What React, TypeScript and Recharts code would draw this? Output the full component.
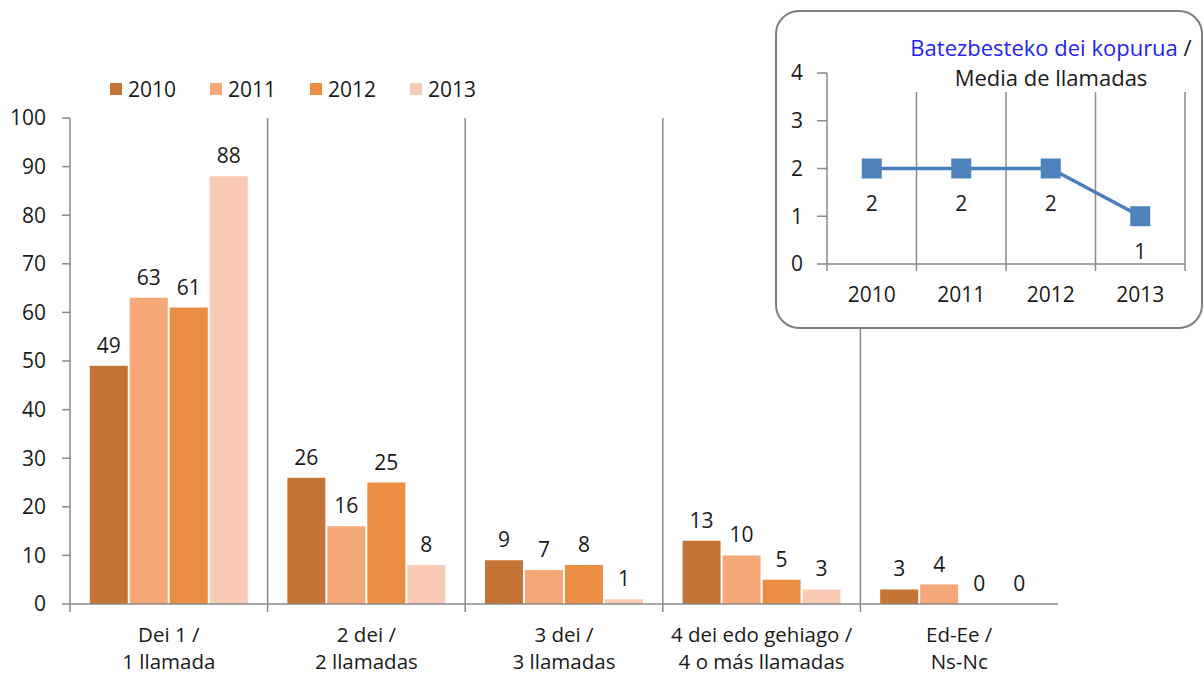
import { BarChart, Bar, XAxis, YAxis, LabelList, CartesianGrid, LineChart, Line } from 'recharts';

const categories = [
  'Dei 1 /\n1 llamada',
  '2 dei /\n2 llamadas',
  '3 dei /\n3 llamadas',
  '4 dei edo gehiago /\n4 o más llamadas',
  'Ed-Ee /\nNs-Nc',
];
const years = ['2010', '2011', '2012', '2013'];
const calls2010 = [49, 26, 9, 13, 3];
const calls2011 = [63, 16, 7, 10, 4];
const calls2012 = [61, 25, 8, 5, 0];
const calls2013 = [88, 8, 1, 3, 0];
const yTicks = [0, 10, 20, 30, 40, 50, 60, 70, 80, 90, 100];
const avgCalls = [2, 2, 2, 1];
const avgTicks = [0, 1, 2, 3, 4];

const colors = ['#C47535', '#F6A878', '#E98E42', '#F9CBB4'];
const FONT = '"Open Sans", "Noto Sans", sans-serif';
const axisGray = '#8a8a8a';
const textColor = '#1a1a1a';

const barData = categories.map((name, i) => ({
  name,
  y2010: calls2010[i],
  y2011: calls2011[i],
  y2012: calls2012[i],
  y2013: calls2013[i],
}));
const seriesKeys = ['y2010', 'y2011', 'y2012', 'y2013'];

const lineData = years.map((year, i) => ({ year, avg: avgCalls[i] }));

// grid lines between categories (Excel style)
const boundaries = (n: number, last: number) => ({ offset }: any) => {
  const out: number[] = [];
  for (let i = 1; i <= last; i++) out.push(offset.left + (offset.width * i) / n);
  return out;
};

// tick label on two lines + small tick marks on the category boundaries
const makeCategoryTick = (count: number, tickLen: number, lineDy: number[], fontSize: number, closeEnd: boolean) => (props: any) => {
  const { x, y, payload, index } = props;
  const half = payload.offset ?? 0;
  const lines = String(payload.value).split('\n');
  return (
    <g>
      <line x1={x - half} x2={x - half} y1={y} y2={y + tickLen} stroke={axisGray} strokeWidth={1.5} />
      {closeEnd && index === count - 1 && (
        <line x1={x + half} x2={x + half} y1={y} y2={y + tickLen} stroke={axisGray} strokeWidth={1.5} />
      )}
      <text x={x} y={y} textAnchor="middle" fill={textColor} fontSize={fontSize} fontFamily={FONT}>
        {lines.map((l, i) => (
          <tspan key={i} x={x} dy={lineDy[i]}>
            {l}
          </tspan>
        ))}
      </text>
    </g>
  );
};

const MainTick = makeCategoryTick(categories.length, 8, [38, 27], 20.5, false);
const InsetTick = makeCategoryTick(years.length, 7, [38], 21, true);

const SquareDot = (props: any) => {
  const { cx, cy } = props;
  if (cx == null || cy == null) return null;
  return <rect x={cx - 10} y={cy - 10} width={20} height={20} fill="#4F81BD" />;
};

// zero values still need a (invisible) rect so their "0" label is drawn
const tinyForZero = (value: any) => (value === 0 ? 0.01 : 0);

const App = () => {
  return (
    <div style={{ position: 'absolute', left: 0, top: 0, width: 1204, height: 676, background: '#fff', fontFamily: FONT }}>
      <BarChart
        width={1204}
        height={676}
        data={barData}
        margin={{ top: 118, right: 146, bottom: 0, left: 0 }}
        barCategoryGap="10%"
        barGap={2}
      >
        <CartesianGrid
          horizontal={false}
          stroke={axisGray}
          strokeWidth={1.5}
          verticalCoordinatesGenerator={boundaries(categories.length, categories.length - 1)}
        />
        <XAxis
          dataKey="name"
          height={72}
          axisLine={{ stroke: axisGray, strokeWidth: 1.5 }}
          tickLine={false}
          tickSize={0}
          tickMargin={0}
          interval={0}
          tick={<MainTick />}
        />
        <YAxis
          width={70}
          domain={[0, 100]}
          ticks={yTicks}
          interval={0}
          axisLine={{ stroke: axisGray, strokeWidth: 1.5 }}
          tickLine={{ stroke: axisGray, strokeWidth: 1.5 }}
          tickSize={8}
          tickMargin={16}
          tick={{ fill: textColor, fontSize: 21, fontFamily: FONT }}
        />
        {seriesKeys.map((k, i) => (
          <Bar key={k} dataKey={k} name={years[i]} fill={colors[i]} minPointSize={tinyForZero} isAnimationActive={false}>
            <LabelList dataKey={k} position="top" offset={13} fill={textColor} fontSize={21} fontFamily={FONT} />
          </Bar>
        ))}
      </BarChart>

      {/* legend */}
      <div style={{ position: 'absolute', left: 110, top: 76, display: 'flex' }}>
        {years.map((y, i) => (
          <div key={y} style={{ width: 100, display: 'flex', alignItems: 'center', height: 26 }}>
            <span style={{ width: 12, height: 12, background: colors[i], display: 'inline-block', marginRight: 6 }} />
            <span style={{ fontSize: 21, color: textColor }}>{y}</span>
          </div>
        ))}
      </div>

      {/* inset: average calls */}
      <div
        style={{
          position: 'absolute',
          left: 775,
          top: 10,
          width: 428,
          height: 319,
          boxSizing: 'border-box',
          border: '2px solid #7f7f7f',
          borderRadius: 24,
          background: '#fff',
        }}
      >
        <LineChart width={424} height={315} data={lineData} margin={{ top: 61, right: 16, bottom: 0, left: 0 }}>
          <CartesianGrid
            horizontal={false}
            stroke={axisGray}
            strokeWidth={1.5}
            verticalCoordinatesGenerator={boundaries(years.length, years.length)}
          />
          <XAxis
            dataKey="year"
            height={63}
            scale="band"
            axisLine={{ stroke: axisGray, strokeWidth: 1.5 }}
            tickLine={false}
            tickSize={0}
            tickMargin={0}
            interval={0}
            tick={<InsetTick />}
          />
          <YAxis
            width={50}
            domain={[0, 4]}
            ticks={avgTicks}
            interval={0}
            axisLine={{ stroke: axisGray, strokeWidth: 1.5 }}
            tickLine={{ stroke: axisGray, strokeWidth: 1.5 }}
            tickSize={10}
            tickMargin={14}
            tick={{ fill: textColor, fontSize: 21, fontFamily: FONT }}
          />
          <Line
            dataKey="avg"
            stroke="#4A7EBB"
            strokeWidth={3.5}
            dot={<SquareDot />}
            activeDot={false}
            isAnimationActive={false}
          >
            <LabelList dataKey="avg" position="bottom" offset={28} fill={textColor} fontSize={21} fontFamily={FONT} />
          </Line>
        </LineChart>
        <div
          style={{
            position: 'absolute',
            left: 128,
            top: 20,
            width: 292,
            height: 60,
            textAlign: 'center',
            fontSize: 22,
            lineHeight: '30px',
            color: textColor,
            background: '#fff',
            whiteSpace: 'nowrap',
          }}
        >
          <span style={{ color: '#2424F0' }}>Batezbesteko dei kopurua</span> /
          <br />
          Media de llamadas
        </div>
      </div>
    </div>
  );
};

export default App;
